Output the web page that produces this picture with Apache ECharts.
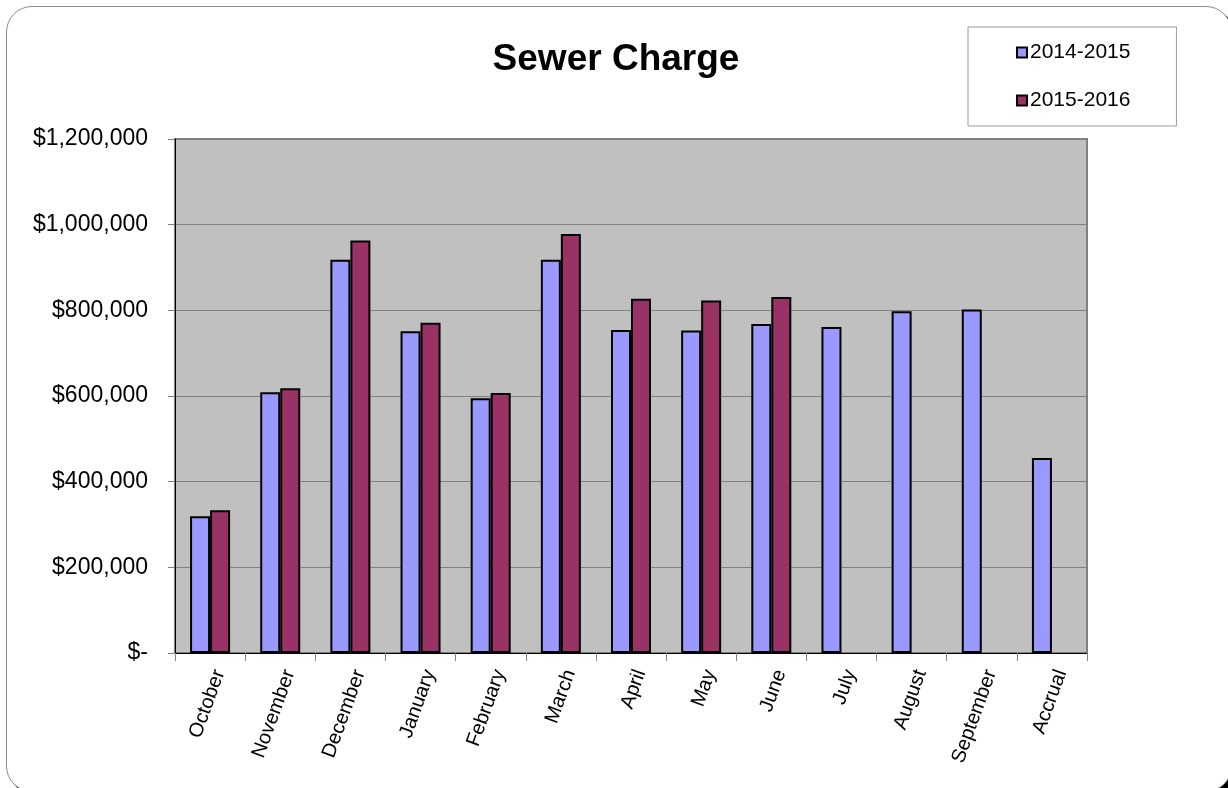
<!DOCTYPE html>
<html>
<head>
<meta charset="utf-8">
<title>Sewer Charge</title>
<script src="https://cdn.jsdelivr.net/npm/echarts@6/dist/echarts.min.js"></script>
<style>
  html, body { margin: 0; padding: 0; background: #fff; overflow: hidden; }
  #frame {
    position: absolute; left: 6px; top: 6px; width: 1224px; height: 784px;
    border: 1px solid #8c8c8c; border-radius: 26px; background: #fff;
    box-shadow: 4px 4px 0 #000;
  }
  #chart { position: absolute; left: 0; top: 0; width: 1228px; height: 788px; }
</style>
</head>
<body>
<div id="frame"></div>
<div id="chart"></div>
<script>
// Monthly sewer charge, fiscal years side by side
const categories = ['October', 'November', 'December', 'January', 'February', 'March',
                    'April', 'May', 'June', 'July', 'August', 'September', 'Accrual'];
const seriesNames = ['2014-2015', '2015-2016'];
const fy2015 = [319000, 609000, 918000, 751000, 595000, 918000,
                754000, 753000, 768000, 761000, 798000, 802000, 455000];
const fy2016 = [333000, 618000, 963000, 771000, 607000, 978000,
                827000, 823000, 831000, null, null, null, null];
const yTicks = [0, 200000, 400000, 600000, 800000, 1000000, 1200000];

const FONT = '"Liberation Sans", Arial, sans-serif';

function money(v) {
  if (v === 0) return '$-';
  return '$' + String(v).replace(/\B(?=(\d{3})+(?!\d))/g, ',');
}

const chart = echarts.init(document.getElementById('chart'), null, { renderer: 'canvas' });

chart.setOption({
  backgroundColor: 'transparent',
  animation: false,
  textStyle: { fontFamily: FONT, color: '#000' },
  title: {
    text: 'Sewer Charge',
    left: 611, top: 36, textAlign: 'center',
    textStyle: { fontFamily: FONT, fontSize: 37, fontWeight: 'bold', color: '#000' }
  },
  legend: {
    orient: 'vertical',
    left: 968, top: 27,
    padding: [15, 46, 15, 48],
    itemGap: 27,
    itemWidth: 10, itemHeight: 10,
    icon: 'rect',
    backgroundColor: '#fff',
    borderColor: '#9a9a9a', borderWidth: 1,
    textStyle: { fontFamily: FONT, fontSize: 21, color: '#000', padding: [0, 0, 0, -2] },
    data: seriesNames
  },
  grid: {
    left: 175, right: 141, top: 139, bottom: 135,
    show: true, backgroundColor: '#C0C0C0',
    borderColor: '#808080', borderWidth: 2
  },
  xAxis: {
    type: 'category',
    data: categories,
    axisLine: { show: true, lineStyle: { color: '#000', width: 1 } },
    axisTick: { show: true, length: 8, lineStyle: { color: '#808080' } },
    axisLabel: {
      rotate: 70, margin: 14, interval: 0, verticalAlign: 'top',
      fontFamily: FONT, fontSize: 20, color: '#000'
    },
    splitLine: { show: false }
  },
  yAxis: {
    type: 'value',
    min: yTicks[0], max: yTicks[yTicks.length - 1], interval: 200000,
    axisLine: { show: true, lineStyle: { color: '#000', width: 1 } },
    axisTick: { show: true, length: 7, lineStyle: { color: '#808080' } },
    axisLabel: {
      margin: 27, fontFamily: FONT, fontSize: 23, color: '#000',
      formatter: money
    },
    splitLine: { show: true, lineStyle: { color: '#808080', width: 1 } }
  },
  series: [
    {
      name: seriesNames[0], type: 'bar', data: fy2015,
      barWidth: 20, barGap: '0%',
      itemStyle: { color: '#9999FF', borderColor: '#000', borderWidth: 2 }
    },
    {
      name: seriesNames[1], type: 'bar', data: fy2016,
      barWidth: 20,
      itemStyle: { color: '#993366', borderColor: '#000', borderWidth: 2 }
    }
  ]
});
</script>
</body>
</html>
